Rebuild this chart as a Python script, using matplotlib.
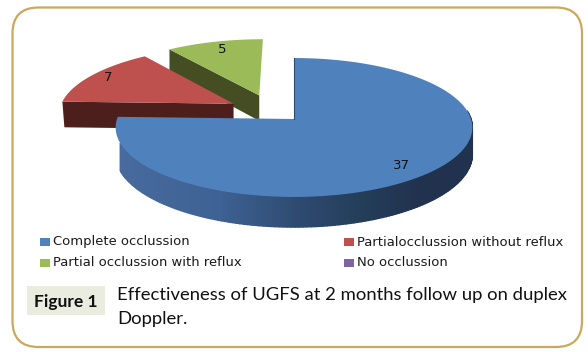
import matplotlib
matplotlib.use("Agg")
import matplotlib.pyplot as plt
from matplotlib.patches import FancyBboxPatch, Rectangle
import numpy as np

# data
labels = ['Complete occlussion', 'Partialocclussion without reflux',
          'Partial occlussion with reflux', 'No occlussion']
values = [37, 7, 5, 0]
caption_line1 = 'Effectiveness of UGFS at 2 months follow up on duplex'
caption_line2 = 'Doppler.'
figure_tag = 'Figure 1'

# slice styles, same order as values
top_colors = ['#4F81BD', '#BE504D', '#9BBB59', '#8064A2']
side_colors = ['#2F4A70', '#4C1F1D', '#454D22', '#4A3A60']
explode_u = [0, -0.351, -0.205, 0]
explode_v = [0, 0.23, 0.36, 0]
label_r = [0.81, 0.88, 0.82, 0.8]
label_dy = [4, -1, -1, 0]
draw_order = [2, 1, 0]

# pie geometry in pixels, with a little perspective
cx, cy = 294, 119
Rx, Ry, p = 177, 68.4, 0.122
depth = 26.5


def project(u, v):
    w = 1 + p*v
    return cx + Rx*u/w, cy - Ry*v/w, depth/w


fig = plt.figure(figsize=(5.88, 3.52), dpi=100)
ax = fig.add_axes([0, 0, 1, 1])
ax.set_xlim(0, 588)
ax.set_ylim(352, 0)
ax.axis('off')

# frame
ax.add_patch(FancyBboxPatch((12.5+26, 7.5+26), 569.5-52, 339.5-52,
                            boxstyle='round,pad=26,rounding_size=26',
                            fc='white', ec='#CBA85C', lw=1.6))

# slice angles, clockwise from the top
total = sum(values)
ends = 90 - 360*np.cumsum(values)/total
starts = np.concatenate([[90], ends[:-1]])

for i in draw_order:
    th = np.radians(np.linspace(starts[i], ends[i], 240))
    ou, ov = explode_u[i], explode_v[i]
    u = ou + np.cos(th)
    v = ov + np.sin(th)
    x, y, d = project(u, v)
    ax0, ay0, ad0 = project(ou, ov)

    if i == 0:
        # curved wall, drawn in strips that darken to the right
        # on the left the wall only starts some way round the rim
        wall = (np.sin(th) < p) & ~((np.cos(th) < 0) & (np.sin(th) > -0.33))
        shade_x = [120, 220, 300, 360, 420]
        r = np.interp(x, shade_x, [72, 62, 46, 36, 33])
        g = np.interp(x, shade_x, [106, 98, 74, 62, 50])
        b = np.interp(x, shade_x, [156, 148, 112, 90, 78])
        for k in range(len(th)-1):
            if wall[k] and wall[k+1]:
                col = (r[k]/255, g[k]/255, b[k]/255)
                ax.fill([x[k], x[k+1], x[k+1], x[k]],
                        [y[k], y[k+1], y[k+1]+d[k+1], y[k]+d[k]],
                        fc=col, ec=col, lw=1.0, zorder=5)
    elif i == 1:
        # flat wall along the lower radial edge
        ax.fill([ax0, x[0], x[0]+2, ax0],
                [ay0, y[0], y[0]+d[0], ay0+ad0],
                fc=side_colors[i], ec='none', zorder=3)
    elif i == 2:
        # flat wall along the left radial edge
        ax.fill([ax0, x[0], x[0], ax0],
                [ay0, y[0], y[0]+d[0], ay0+ad0],
                fc=side_colors[i], ec='none', zorder=1)

    z = {0: 6, 1: 4, 2: 2}[i]
    ax.fill(np.r_[ax0, x], np.r_[ay0, y], fc=top_colors[i], ec='none', zorder=z)

    # value label
    mid = np.radians((starts[i]+ends[i])/2)
    lx, ly, _ = project(ou + label_r[i]*np.cos(mid), ov + label_r[i]*np.sin(mid))
    ax.text(lx, ly + label_dy[i], str(values[i]), ha='center', va='center', fontsize=9.5,
            color='#111111', zorder=8)

# thin dark edge where the big slice starts
ex, ey, _ = project(np.cos(np.radians(90)), np.sin(np.radians(90)))
ax.plot([ex, cx], [ey, cy], color='#2F4A70', lw=0.8, zorder=7)

# legend
leg_x = [40, 40, 344, 344]
leg_y = [242, 263, 242, 263]
leg_order = [0, 2, 1, 3]
for n, i in enumerate(leg_order):
    ax.add_patch(Rectangle((leg_x[n], leg_y[n]-4), 10, 8, fc=top_colors[i], ec='none'))
    ax.text(leg_x[n]+13, leg_y[n], labels[i], ha='left', va='center',
            fontsize=9.45, color='#1A1A1A')

# caption
ax.add_patch(Rectangle((27, 286), 78, 29, fc='#EBECE0', ec='none'))
ax.text(66, 302, figure_tag, ha='center', va='center', fontsize=12.5,
        family='Lato', weight='bold', color='#111111')
ax.text(117, 295, caption_line1, ha='left', va='center', fontsize=13.3,
        family='Lato', color='#111111')
ax.text(117, 319, caption_line2, ha='left', va='center', fontsize=13.3,
        family='Lato', color='#111111')

fig.savefig('out.png', dpi=100)
